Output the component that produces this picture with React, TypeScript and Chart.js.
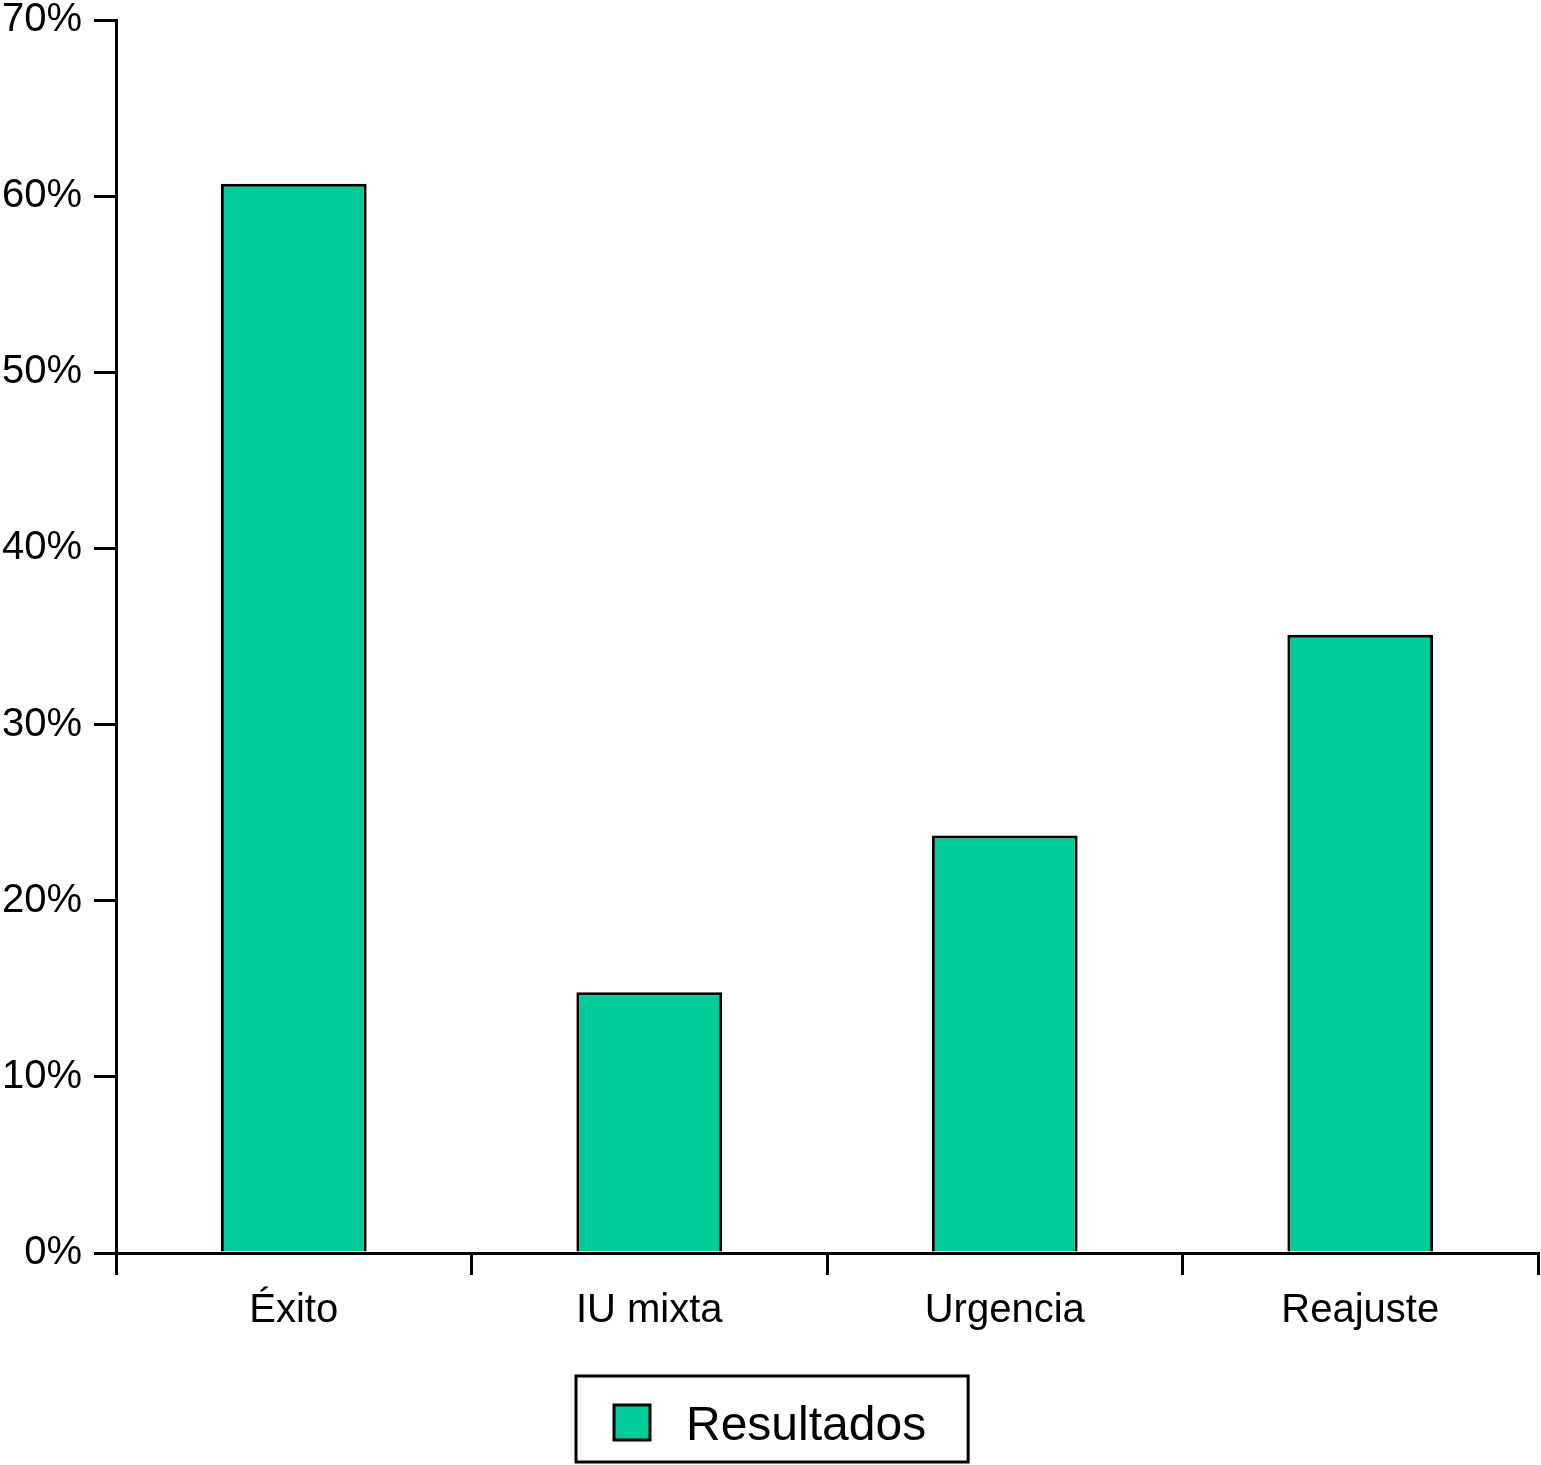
import React, { useEffect, useRef } from "react";
import { Chart, registerables } from "chart.js";

Chart.register(...registerables);

const categories = ["Éxito", "IU mixta", "Urgencia", "Reajuste"];
const seriesLabel = "Resultados";
const seriesValues = [60.7, 14.8, 23.7, 35.1];
const yTickValues = [0, 10, 20, 30, 40, 50, 60, 70];

const FONT = "'Liberation Sans', Arial, Helvetica, sans-serif";
const BAR_COLOR = "#00CC99";

const legendPlugin = {
  id: "boxLegend",
  afterDraw(chart: any) {
    const ctx = chart.ctx;
    const ds = chart.data.datasets[0];
    ctx.save();
    ctx.font = `48px ${FONT}`;
    const tw = ctx.measureText(ds.label).width;
    const boxW = 38 + 36 + 36 + tw + 42;
    const boxH = 86;
    const left = Math.round(chart.width / 2 - boxW / 2 + 2);
    const top = chart.chartArea.bottom + 123;
    ctx.lineWidth = 3;
    ctx.strokeStyle = "#000";
    ctx.strokeRect(left, top, boxW, boxH);
    ctx.fillStyle = ds.backgroundColor;
    ctx.fillRect(left + 38, top + 29, 36, 35);
    ctx.strokeRect(left + 38, top + 29, 36, 35);
    ctx.fillStyle = "#000";
    ctx.textBaseline = "alphabetic";
    ctx.textAlign = "left";
    ctx.fillText(ds.label, left + 110, top + 64);
    ctx.restore();
  },
};

export default function App() {
  const ref = useRef<HTMLCanvasElement>(null);
  useEffect(() => {
    if (!ref.current) return;
    const chart = new Chart(ref.current, {
      type: "bar",
      data: {
        labels: categories,
        datasets: [
          {
            label: seriesLabel,
            data: seriesValues,
            backgroundColor: BAR_COLOR,
            borderColor: "#000",
            borderWidth: 3,
            categoryPercentage: 1,
            barPercentage: 0.41,
          },
        ],
      },
      options: {
        animation: false,
        responsive: false,
        devicePixelRatio: 1,
        layout: { padding: { top: 20, right: 3, bottom: 0, left: 0 } },
        plugins: { legend: { display: false }, tooltip: { enabled: false } },
        scales: {
          x: {
            afterFit: (s: any) => {
              s.height = 212;
              s.paddingLeft = 0;
              s.paddingRight = 0;
            },
            border: { display: true, color: "#000", width: 3 },
            grid: {
              display: true,
              offset: true,
              drawOnChartArea: false,
              drawTicks: true,
              tickLength: 22,
              color: "#000",
              lineWidth: 3,
            },
            ticks: {
              color: "#000",
              font: { family: FONT, size: 40 },
              padding: 12,
              maxRotation: 0,
            },
          },
          y: {
            min: 0,
            max: 70,
            afterFit: (s: any) => {
              s.width = 116;
              s.paddingTop = 0;
              s.paddingBottom = 0;
            },
            afterBuildTicks: (s: any) => {
              s.ticks = yTickValues.map((v) => ({ value: v }));
            },
            border: { display: true, color: "#000", width: 3 },
            grid: {
              display: true,
              drawOnChartArea: false,
              drawTicks: true,
              tickLength: 22,
              color: "#000",
              lineWidth: 3,
            },
            ticks: {
              color: "#000",
              font: { family: FONT, size: 40 },
              padding: 12,
              callback: (v: any) => `${v}%`,
            },
          },
        },
      },
      plugins: [legendPlugin],
    });
    return () => chart.destroy();
  }, []);
  return (
    <div style={{ position: "absolute", left: 0, top: 0, width: 1541, height: 1465, background: "#fff" }}>
      <canvas ref={ref} width={1541} height={1465} style={{ display: "block" }} />
    </div>
  );
}
